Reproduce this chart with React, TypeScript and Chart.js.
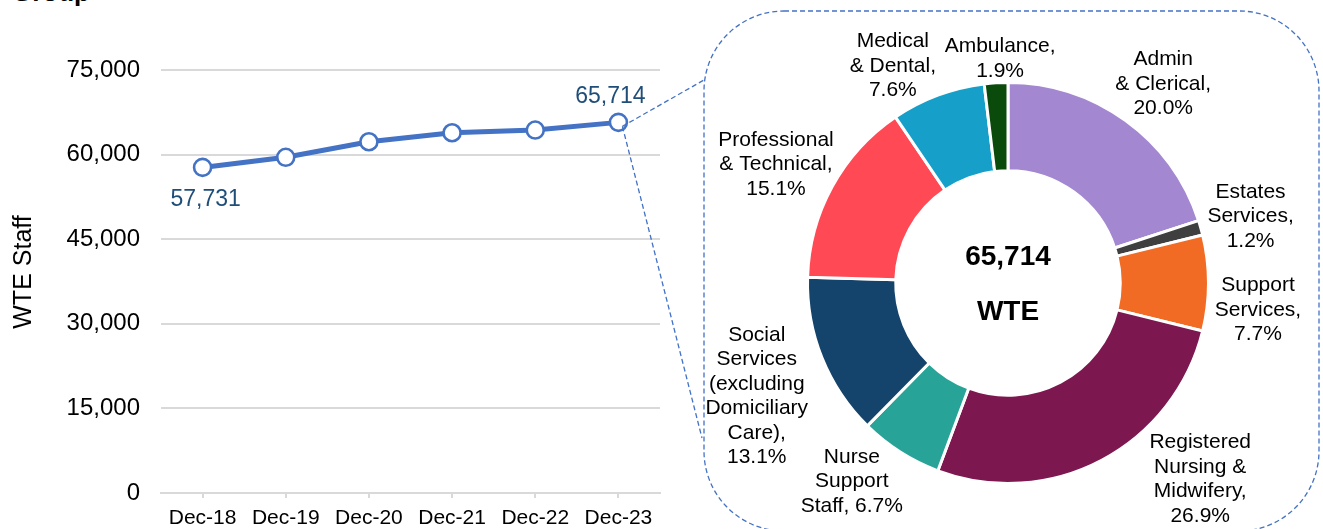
import React, { useEffect, useRef } from "react";
import { Chart, registerables } from "chart.js";

Chart.register(...registerables);

// ---------- data ----------
const years = ["Dec-18", "Dec-19", "Dec-20", "Dec-21", "Dec-22", "Dec-23"];
const wteValues = [57731, 59520, 62280, 63880, 64350, 65714];
const yTicksMax = 75000;
const yTicksStep = 15000;
const yTitle = "WTE Staff";

const staffGroups = [
  "Admin\n& Clerical",
  "Estates\nServices",
  "Support\nServices",
  "Registered\nNursing &\nMidwifery",
  "Nurse\nSupport\nStaff",
  "Social\nServices\n(excluding\nDomiciliary\nCare)",
  "Professional\n& Technical",
  "Medical\n& Dental",
  "Ambulance",
];
const staffShares = [20.0, 1.2, 7.7, 26.9, 6.7, 13.1, 15.1, 7.6, 1.9];
const shareOnSameLine = [false, false, false, false, true, false, false, false, false];

// ---------- styles ----------
const W = 1323;
const H = 529;
const FONT = "'Liberation Sans', Arial, Helvetica, sans-serif";
const groupColors = [
  "#A387D0",
  "#3F3F3F",
  "#F26B24",
  "#7D174F",
  "#27A398",
  "#14436B",
  "#FF4A55",
  "#159FC9",
  "#0A4A0A",
];
// label placement: extra radius beyond outer edge, angular nudge (deg)
const labelExtra = [52, 51, 51, 74, 52, 75, 60, 45, 24];
const labelNudge = [2.0, 0.7, 6.2, -16.6, 5.7, -2.3, -1.7, -7.5, 1.4];

const plotLeft = 161;
const plotRight = 660;
const plotTop = 70;
const plotBottom = 493;
const titlePos = { x: 24, y: 272 };

const donutCx = 1008;
const donutCy = 283;
const donutHalf = 202;

const box = { left: 704, right: 1319, top: 11, bottom: 531, r: 80 };
const fmt = (v: number) => v.toLocaleString("en-US");

export default function App() {
  const lineRef = useRef<HTMLCanvasElement | null>(null);
  const donutRef = useRef<HTMLCanvasElement | null>(null);

  useEffect(() => {
    Chart.defaults.font.family = FONT;

    const lineLabels = {
      id: "lineLabels",
      afterDatasetsDraw(chart: any) {
        const ctx = chart.ctx;
        const pts = chart.getDatasetMeta(0).data;
        ctx.save();
        ctx.font = `23px ${FONT}`;
        ctx.fillStyle = "#1F4E79";
        ctx.textAlign = "center";
        ctx.textBaseline = "middle";
        const first = pts[0];
        ctx.fillText(fmt(wteValues[0]), first.x + 3, first.y + 32);
        const last = pts[pts.length - 1];
        ctx.fillText(fmt(wteValues[wteValues.length - 1]), last.x - 8, last.y - 26);
        ctx.restore();
      },
      afterDraw(chart: any) {
        const ctx = chart.ctx;
        const pts = chart.getDatasetMeta(0).data;
        const last = pts[pts.length - 1];
        ctx.save();
        // rotated y axis title
        ctx.save();
        ctx.translate(titlePos.x, titlePos.y);
        ctx.rotate(-Math.PI / 2);
        ctx.font = `25px ${FONT}`;
        ctx.fillStyle = "#000000";
        ctx.textAlign = "center";
        ctx.textBaseline = "middle";
        ctx.fillText(yTitle, 0, 0);
        ctx.restore();

        ctx.strokeStyle = "#4472C4";
        ctx.lineWidth = 1.3;
        ctx.setLineDash([5, 3]);
        // rounded dashed box
        const { left, right, top, bottom, r } = box;
        ctx.beginPath();
        ctx.moveTo(left + r, top);
        ctx.lineTo(right - r, top);
        ctx.arcTo(right, top, right, top + r, r);
        ctx.lineTo(right, bottom - r);
        ctx.arcTo(right, bottom, right - r, bottom, r);
        ctx.lineTo(left + r, bottom);
        ctx.arcTo(left, bottom, left, bottom - r, r);
        ctx.lineTo(left, top + r);
        ctx.arcTo(left, top, left + r, top, r);
        ctx.closePath();
        ctx.stroke();
        // connectors
        const sx = last.x + 4;
        const sy = last.y + 4;
        ctx.beginPath();
        ctx.moveTo(sx, sy);
        ctx.lineTo(left, top + 69);
        ctx.stroke();
        ctx.beginPath();
        ctx.moveTo(sx, sy);
        ctx.lineTo(left - 2, bottom - 93);
        ctx.stroke();
        ctx.restore();
      },
    };

    const lineChart = new Chart(lineRef.current as HTMLCanvasElement, {
      type: "line",
      data: {
        labels: years,
        datasets: [
          {
            data: wteValues,
            borderColor: "#4472C4",
            borderWidth: 5,
            pointRadius: 8.5,
            pointBorderWidth: 2.6,
            pointBackgroundColor: "#FFFFFF",
            pointBorderColor: "#4472C4",
            tension: 0,
          },
        ],
      },
      options: {
        animation: false,
        responsive: false,
        layout: { padding: { left: 0, right: W - plotRight, top: plotTop, bottom: 0 } },
        plugins: { legend: { display: false }, tooltip: { enabled: false } },
        scales: {
          x: {
            offset: true,
            grid: {
              display: true,
              drawOnChartArea: false,
              drawTicks: true,
              tickLength: 5,
              color: "#D9D9D9",
              lineWidth: 2,
              offset: false,
            },
            border: { display: true, color: "#D9D9D9", width: 2 },
            ticks: {
              color: "#000000",
              font: { family: FONT, size: 21 },
              padding: 8,
              maxRotation: 0,
              autoSkip: false,
            },
            afterFit: (s: any) => {
              s.height = H - plotBottom;
            },
          },
          y: {
            min: 0,
            max: yTicksMax,
            ticks: {
              stepSize: yTicksStep,
              padding: 21,
              color: "#000000",
              font: { family: FONT, size: 24 },
              callback: (v: any) => fmt(Number(v)),
            },
            grid: { color: "#D9D9D9", lineWidth: 2, drawTicks: false },
            border: { display: false },
            title: { display: false },
            afterFit: (s: any) => {
              s.width = plotLeft;
            },
          },
        },
      },
      plugins: [lineLabels],
    } as any);

    const donutLabels = {
      id: "donutLabels",
      afterDraw(chart: any) {
        const ctx = chart.ctx;
        const arcs = chart.getDatasetMeta(0).data;
        ctx.save();
        ctx.fillStyle = "#000000";
        ctx.textAlign = "center";
        ctx.textBaseline = "middle";
        ctx.font = `21px ${FONT}`;
        const lh = 24.5;
        arcs.forEach((arc: any, i: number) => {
          const p = arc.getProps(["x", "y", "startAngle", "endAngle", "outerRadius"], true);
          const mid = (p.startAngle + p.endAngle) / 2 + (labelNudge[i] * Math.PI) / 180;
          const rr = p.outerRadius + labelExtra[i];
          const px = p.x + rr * Math.cos(mid);
          const py = p.y + rr * Math.sin(mid);
          const pct = staffShares[i].toFixed(1) + "%";
          const text = staffGroups[i] + "," + (shareOnSameLine[i] ? " " : "\n") + pct;
          const lines = text.split("\n");
          lines.forEach((ln, k) => {
            ctx.fillText(ln, px, py + (k - (lines.length - 1) / 2) * lh);
          });
        });
        // centre text
        const a0 = arcs[0].getProps(["x", "y"], true);
        ctx.font = `bold 28px ${FONT}`;
        ctx.fillText(fmt(wteValues[wteValues.length - 1]), a0.x, a0.y - 26);
        ctx.fillText("WTE", a0.x, a0.y + 29);
        ctx.restore();
      },
    };

    const donutChart = new Chart(donutRef.current as HTMLCanvasElement, {
      type: "doughnut",
      data: {
        labels: staffGroups,
        datasets: [
          {
            data: staffShares,
            backgroundColor: groupColors,
            borderColor: "#FFFFFF",
            borderWidth: 3,
          },
        ],
      },
      options: {
        animation: false,
        responsive: false,
        cutout: "56%",
        layout: {
          padding: {
            left: donutCx - donutHalf,
            right: W - (donutCx + donutHalf),
            top: donutCy - donutHalf,
            bottom: H - (donutCy + donutHalf),
          },
        },
        plugins: { legend: { display: false }, tooltip: { enabled: false } },
      },
      plugins: [donutLabels],
    } as any);

    return () => {
      lineChart.destroy();
      donutChart.destroy();
    };
  }, []);

  return (
    <div
      style={{
        position: "fixed",
        left: 0,
        top: 0,
        width: W,
        height: H,
        overflow: "hidden",
        background: "#FFFFFF",
      }}
    >
      <div
        style={{
          position: "absolute",
          left: 12,
          top: -21,
          font: `bold 26px ${FONT}`,
          lineHeight: "26px",
          color: "#000000",
          whiteSpace: "nowrap",
        }}
      >
        Group
      </div>
      <canvas
        ref={lineRef}
        width={W}
        height={H}
        style={{ position: "absolute", left: 0, top: 0, display: "block" }}
      />
      <canvas
        ref={donutRef}
        width={W}
        height={H}
        style={{ position: "absolute", left: 0, top: 0, display: "block" }}
      />
    </div>
  );
}
